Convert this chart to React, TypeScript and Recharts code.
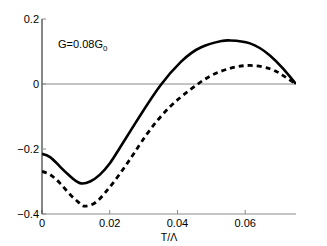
import React from "react";
import { LineChart, Line, XAxis, YAxis, ReferenceLine, Label } from "recharts";

const solidT = [0, 0.0024, 0.0053, 0.0083, 0.0112, 0.0142, 0.0171, 0.0201, 0.023, 0.029, 0.035, 0.041, 0.047, 0.053, 0.0555, 0.0614, 0.0673, 0.0712, 0.075];
const solidY = [-0.215, -0.225, -0.254, -0.284, -0.305, -0.3, -0.279, -0.243, -0.196, -0.097, -0.004, 0.068, 0.113, 0.132, 0.134, 0.125, 0.088, 0.047, 0];

const dashedT = [0, 0.0024, 0.0053, 0.0083, 0.0112, 0.0127, 0.0156, 0.0186, 0.0216, 0.0245, 0.0275, 0.0319, 0.0378, 0.0437, 0.0496, 0.0555, 0.0614, 0.0673, 0.0712, 0.075];
const dashedY = [-0.269, -0.279, -0.305, -0.34, -0.368, -0.376, -0.366, -0.335, -0.296, -0.254, -0.208, -0.141, -0.07, -0.018, 0.024, 0.048, 0.057, 0.047, 0.026, 0];

const xTicks = [0, 0.02, 0.04, 0.06];
const yTicks = [-0.4, -0.2, 0, 0.2];
const annotation = "G=0.08G";
const annotationSub = "0";
const xLabel = "T/Λ";

const solidData = solidT.map((t, i) => ({ t, v: solidY[i] }));
const dashedData = dashedT.map((t, i) => ({ t, v: dashedY[i] }));

const font = "'Liberation Sans', Arial, Helvetica, sans-serif";
const fmtX = (v: number) => (v === 0 ? "0" : v.toFixed(2));
const fmtY = (v: number) => (v === 0 ? "0" : (v < 0 ? "\u2212" : "") + Math.abs(v).toFixed(1));
const tickStyle = { fontSize: 11, fill: "#000", fontFamily: font };

export default function App() {
  return (
    <div style={{ position: "relative", width: 327, height: 246 }}>
      <style>{`body{margin:0}`}</style>
      <LineChart width={327} height={246} margin={{ top: 19, right: 31, bottom: 0, left: 0 }}>
        <XAxis
          xAxisId="b"
          dataKey="t"
          type="number"
          domain={[0, 0.075]}
          ticks={xTicks}
          tickFormatter={fmtX}
          allowDataOverflow
          height={32}
          tickSize={-4}
          tickMargin={9}
          stroke="#888"
          tick={tickStyle}
          tickLine={{ stroke: "#888" }}
        >
          <Label value={xLabel} position="insideBottom" offset={5} style={{ fontSize: 10.5, fill: "#000", fontFamily: font }} />
        </XAxis>
        <XAxis
          xAxisId="t"
          orientation="top"
          dataKey="t"
          type="number"
          domain={[0, 0.075]}
          ticks={xTicks}
          tickFormatter={() => ""}
          allowDataOverflow
          height={0}
          tickSize={-4}
          stroke="#888"
          tickLine={{ stroke: "#888" }}
        />
        <YAxis
          yAxisId="l"
          type="number"
          domain={[-0.4, 0.2]}
          ticks={yTicks}
          tickFormatter={fmtY}
          allowDataOverflow
          width={42}
          tickSize={-4}
          tickMargin={7}
          stroke="#111"
          tick={tickStyle}
          tickLine={{ stroke: "#888" }}
        />
        <YAxis
          yAxisId="r"
          orientation="right"
          type="number"
          domain={[-0.4, 0.2]}
          ticks={yTicks}
          tickFormatter={() => ""}
          allowDataOverflow
          width={0}
          tickSize={-4}
          stroke="#888"
          tickLine={{ stroke: "#888" }}
        />
        <ReferenceLine xAxisId="b" yAxisId="l" y={0} stroke="#888" strokeWidth={1} />
        <Line
          xAxisId="b"
          yAxisId="l"
          data={dashedData}
          dataKey="v"
          type="natural"
          stroke="#000"
          strokeWidth={2.8}
          strokeDasharray="5 4"
          dot={false}
          isAnimationActive={false}
        />
        <Line
          xAxisId="b"
          yAxisId="l"
          data={solidData}
          dataKey="v"
          type="natural"
          stroke="#000"
          strokeWidth={2.6}
          dot={false}
          isAnimationActive={false}
        />
      </LineChart>
      <div
        style={{
          position: "absolute",
          left: 58,
          top: 38,
          fontSize: 11,
          fontFamily: font,
          color: "#000",
          lineHeight: "13px",
          whiteSpace: "nowrap",
        }}
      >
        {annotation}
        <sub style={{ fontSize: 8, verticalAlign: "-3px" }}>{annotationSub}</sub>
      </div>
    </div>
  );
}
